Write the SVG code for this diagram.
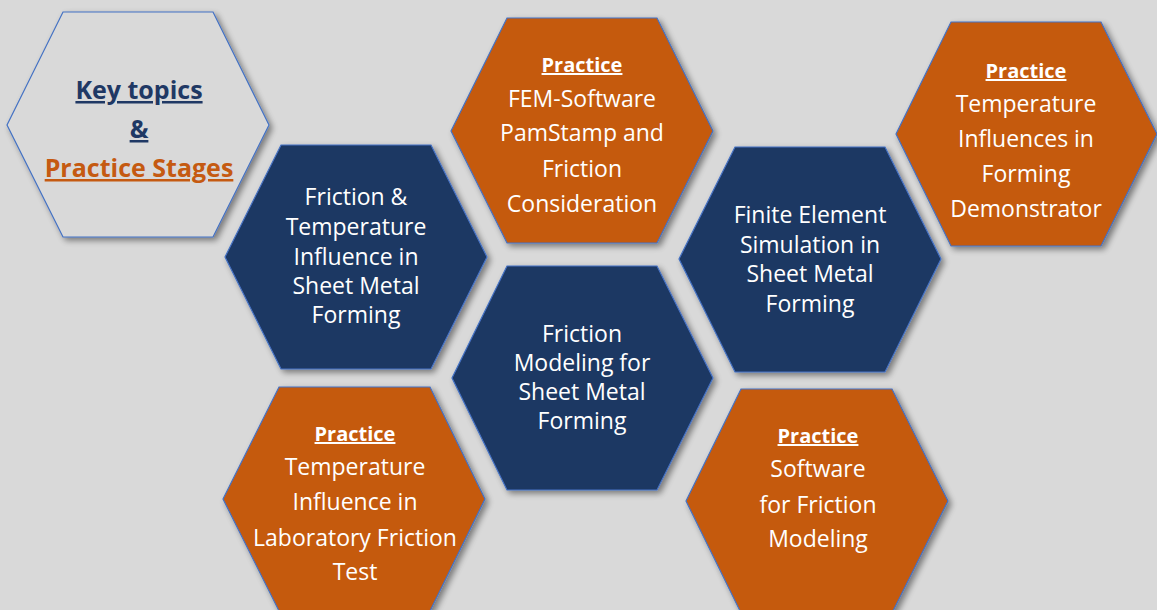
<svg xmlns="http://www.w3.org/2000/svg" width="1157" height="610" viewBox="0 0 1157 610">
<defs>
<filter id="sh" x="-10%" y="-10%" width="125%" height="125%">
<feGaussianBlur in="SourceAlpha" stdDeviation="3"/>
<feOffset dx="3" dy="3" result="b"/>
<feComponentTransfer><feFuncA type="linear" slope="0.45"/></feComponentTransfer>
<feMerge><feMergeNode/><feMergeNode in="SourceGraphic"/></feMerge>
</filter>
<style>
.hex{stroke:#4472c4;stroke-width:1.2;filter:url(#sh)}
.dark{fill:#1f3864}
.orange{fill:#c55a11}
.key{fill:#d9d9d9}
text{font-family:"Open Sans",Lato,"Liberation Sans",sans-serif;text-anchor:middle}
.t{fill:#ffffff;font-size:23px}
.p{fill:#ffffff;font-size:20px;font-weight:bold;text-decoration:underline}
.k{font-size:25px;font-weight:bold;text-decoration:underline}
</style>
</defs>
<rect width="1157" height="610" fill="#d9d9d9"/>
<g id="connectors"/>
<g id="key">
<polygon class="hex key" points="63,12 213,12 269,125 213,237 63,237 7,125"/>
<text class="k" x="139" y="99" fill="#1f3864">Key topics</text>
<text class="k" x="139" y="138" fill="#1f3864">&amp;</text>
<text class="k" x="139" y="177" fill="#c55a11">Practice Stages</text>
</g>
<g id="lab">
<polygon class="hex orange" points="279,387 430,387 485,499 430,611 279,611 223,499"/>
<text class="p" x="355" y="441">Practice</text>
<text class="t" x="355" y="475">Temperature</text>
<text class="t" x="355" y="510">Influence in</text>
<text class="t" x="355" y="546">Laboratory Friction</text>
<text class="t" x="355" y="580">Test</text>
</g>
<g id="software">
<polygon class="hex orange" points="741,389 892,389 948,501 892,613 741,613 686,501"/>
<text class="p" x="818" y="443">Practice</text>
<text class="t" x="818" y="477">Software</text>
<text class="t" x="818" y="513">for Friction</text>
<text class="t" x="818" y="547">Modeling</text>
</g>
<g id="fem">
<polygon class="hex orange" points="507,18 657,18 713,131 657,243 507,243 451,131"/>
<text class="p" x="582" y="72">Practice</text>
<text class="t" x="582" y="107">FEM-Software</text>
<text class="t" x="582" y="141">PamStamp and</text>
<text class="t" x="582" y="177">Friction</text>
<text class="t" x="582" y="212">Consideration</text>
</g>
<g id="demo">
<polygon class="hex orange" points="951,22 1101,22 1157,134 1101,246 951,246 896,134"/>
<text class="p" x="1026" y="78">Practice</text>
<text class="t" x="1026" y="112">Temperature</text>
<text class="t" x="1026" y="147">Influences in</text>
<text class="t" x="1026" y="182">Forming</text>
<text class="t" x="1026" y="217">Demonstrator</text>
</g>
<g id="fricTemp">
<polygon class="hex dark" points="281,145 431,145 487,257 431,369 281,369 225,257"/>
<text class="t" x="356" y="205">Friction &amp;</text>
<text class="t" x="356" y="235">Temperature</text>
<text class="t" x="356" y="265">Influence in</text>
<text class="t" x="356" y="294">Sheet Metal</text>
<text class="t" x="356" y="323">Forming</text>
</g>
<g id="fe">
<polygon class="hex dark" points="735,147 885,147 941,259 885,372 735,372 679,259"/>
<text class="t" x="810" y="223">Finite Element</text>
<text class="t" x="810" y="253">Simulation in</text>
<text class="t" x="810" y="282">Sheet Metal</text>
<text class="t" x="810" y="312">Forming</text>
</g>
<g id="fricModel">
<polygon class="hex dark" points="507,266 657,266 713,378 657,490 507,490 452,378"/>
<text class="t" x="582" y="342">Friction</text>
<text class="t" x="582" y="371">Modeling for</text>
<text class="t" x="582" y="400">Sheet Metal</text>
<text class="t" x="582" y="429">Forming</text>
</g>
</svg>
